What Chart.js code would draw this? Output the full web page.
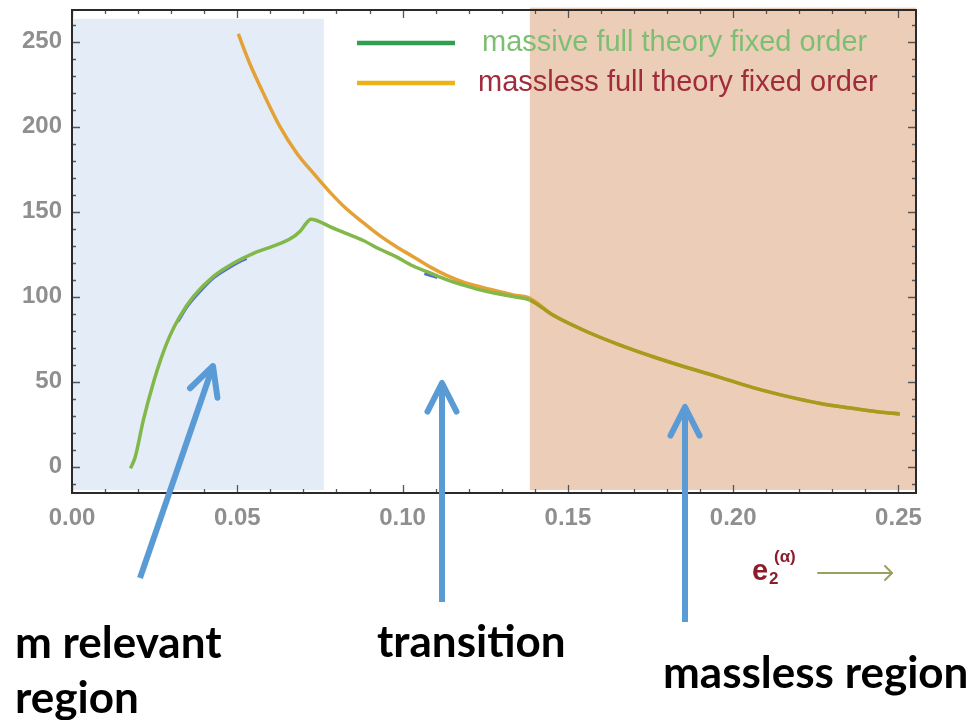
<!DOCTYPE html>
<html>
<head>
<meta charset="utf-8">
<script src="https://cdn.jsdelivr.net/npm/chart.js@4.4.1/dist/chart.umd.min.js"></script>
<style>
  html,body{margin:0;padding:0;background:#fff;}
  #wrap{width:978px;height:720px;position:relative;}
</style>
</head>
<body>
<div id="wrap"><canvas id="chart"></canvas></div>
<script>
// massive full theory fixed order (green)
const massiveX = [0.0177,0.0191,0.0216,0.0247,0.0270,0.0295,0.0325,0.0367,0.0427,0.0488,0.0549,0.0610,0.0660,0.0690,0.0708,0.0722,0.0740,0.0780,0.0831,0.0881,0.0930,0.0980,0.1032,0.1083,0.1133,0.1184,0.1234,0.1285,0.1335,0.1385,0.1456,0.1556,0.1658,0.1760,0.1860,0.1960,0.2060,0.2160,0.2260,0.2360,0.2440,0.2504];
const massiveY = [-1,5.5,27.5,50,64,76.5,88,100,111.8,119.6,125.5,129.8,134,138.5,143,145.5,144.8,141.2,137,133,128,123.5,118,114,110,106.8,104,101.8,100,98,89,79.5,71.5,64.5,58.3,52.5,46.5,41.5,37.3,34.3,32.2,31];

// massless full theory fixed order (orange)
const masslessX = [0.0503,0.0538,0.0579,0.0629,0.0680,0.0730,0.0780,0.0831,0.0881,0.0930,0.0980,0.1032,0.1083,0.1133,0.1184,0.1234,0.1285,0.1335,0.1385,0.1456,0.1556,0.1658,0.1760,0.1860,0.1960,0.2060,0.2160,0.2260,0.2360,0.2440,0.2504];
const masslessY = [254.5,237,219.6,200,184.4,172.6,161.5,151.5,143.5,136,129.5,123.5,117.5,112.5,108.5,105.8,103.3,101,99,89,79.5,71.5,64.5,58.3,52.5,46.5,41.5,37.3,34.3,32.2,31];

// blue bits peeking out under the green one (null = gap)
const blueX = [0.0320,0.0350,0.0390,0.0430,0.0470,0.0510,0.0528,0.0800,0.1066,0.1085,0.1105];
const blueY = [85.2,94.5,103.6,111.3,116.4,120.8,122.5,null,113.6,112.4,111.2];

const xTicks = [0, 0.05, 0.10, 0.15, 0.20, 0.25];
const yTicks = [0, 50, 100, 150, 200, 250];

// shaded regions: m relevant (blue) and massless (peach)
const regionFrom = [0, 0.1385];
const regionTo = [0.0762, 0.2553];
const regionTop = [263.4, 270];
const regionBottom = [-13.7, -13.7];
const regionColors = ["#e4edf7", "#ecceb8"];

const legendLabels = ["massive full theory fixed order", "massless full theory fixed order"];
const overlapFrom = 0.1385;

const GREEN = "#82b74a", ORANGE = "#e3a136", OLIVE = "#a59b1f";

function pts(xs, ys){
  return xs.map((x,i)=>({x:x, y:ys[i]}));
}

// shaded boxes behind the curves
const regionsPlugin = {
  id:"regions",
  beforeDatasetsDraw(chart){
    const {ctx, scales:{x, y}} = chart;
    ctx.save();
    regionFrom.forEach((from,i)=>{
      const x0 = x.getPixelForValue(from), x1 = x.getPixelForValue(regionTo[i]);
      const y0 = y.getPixelForValue(regionTop[i]), y1 = y.getPixelForValue(regionBottom[i]);
      ctx.fillStyle = regionColors[i];
      ctx.fillRect(x0, y0, x1-x0, y1-y0);
    });
    ctx.restore();
  }
};

// mathematica style frame with inward ticks
const framePlugin = {
  id:"frame",
  afterDatasetsDraw(chart){
    const {ctx, chartArea:a, scales:{x, y}} = chart;
    ctx.save();
    ctx.strokeStyle = "#555";
    ctx.lineWidth = 1.3;
    for(let k=0;k<=25;k++){
      const v = k/100, px = Math.round(x.getPixelForValue(v))+0.5;
      const len = k%5===0 ? 8 : 4;
      ctx.beginPath();
      ctx.moveTo(px, a.bottom); ctx.lineTo(px, a.bottom-len);
      ctx.moveTo(px, a.top); ctx.lineTo(px, a.top+len);
      ctx.stroke();
    }
    for(let v=-10; v<=260; v+=10){
      const py = Math.round(y.getPixelForValue(v))+0.5;
      const len = v%50===0 ? 8 : 4;
      ctx.beginPath();
      ctx.moveTo(a.left, py); ctx.lineTo(a.left+len, py);
      ctx.moveTo(a.right, py); ctx.lineTo(a.right-len, py);
      ctx.stroke();
    }
    ctx.strokeStyle = "#2a2a2a";
    ctx.lineWidth = 2;
    ctx.strokeRect(a.left, a.top, a.right-a.left, a.bottom-a.top);
    ctx.restore();
  }
};

// legend in the top right, drawn by hand
const legendPlugin = {
  id:"legendBox",
  afterDatasetsDraw(chart){
    const ctx = chart.ctx;
    ctx.save();
    const lineCols = ["#30a050", "#e8b41a"];
    const textCols = ["#7dbf72", "#a02c3c"];
    const rows = [43, 83];
    ctx.font = "29px 'Liberation Sans'";
    ctx.textBaseline = "middle";
    rows.forEach((ry,i)=>{
      ctx.strokeStyle = lineCols[i];
      ctx.lineWidth = 4.5;
      ctx.beginPath(); ctx.moveTo(357, ry); ctx.lineTo(455, ry); ctx.stroke();
      ctx.fillStyle = textCols[i];
      ctx.fillText(legendLabels[i], i===0 ? 482 : 478, ry);
    });
    ctx.restore();
  }
};

function arrow(ctx, x1, y1, x2, y2){
  const ang = Math.atan2(y2-y1, x2-x1), hl = 32, spread = 0.47;
  ctx.lineCap = "butt";
  ctx.beginPath(); ctx.moveTo(x1, y1); ctx.lineTo(x2, y2); ctx.stroke();
  ctx.lineCap = "round"; ctx.lineJoin = "round";
  ctx.beginPath();
  ctx.moveTo(x2 - hl*Math.cos(ang-spread), y2 - hl*Math.sin(ang-spread));
  ctx.lineTo(x2, y2);
  ctx.lineTo(x2 - hl*Math.cos(ang+spread), y2 - hl*Math.sin(ang+spread));
  ctx.stroke();
}

// arrows, region names and the axis label
const notesPlugin = {
  id:"notes",
  afterDraw(chart){
    const ctx = chart.ctx;
    ctx.save();
    ctx.strokeStyle = "#5b9bd5";
    ctx.lineWidth = 6;
    arrow(ctx, 140, 578, 213, 366);
    arrow(ctx, 442, 602, 442, 383);
    arrow(ctx, 685, 622, 685, 407);

    ctx.fillStyle = "#000";
    ctx.font = "bold 44px Lato";
    ctx.textBaseline = "alphabetic";
    ctx.fillText("m relevant", 15, 658);
    ctx.fillText("region", 15, 713);
    ctx.fillText("transition", 377, 657);
    ctx.fillText("massless region", 663, 688);

    ctx.fillStyle = "#8c1c2c";
    ctx.font = "bold 29px 'Liberation Sans'";
    ctx.fillText("e", 752, 580);
    ctx.font = "bold 17px 'Liberation Sans'";
    ctx.fillText("2", 769, 584);
    ctx.fillText("(α)", 774, 562);

    ctx.strokeStyle = "#9aa060";
    ctx.lineWidth = 2;
    ctx.lineCap = "round";
    ctx.beginPath(); ctx.moveTo(818, 573); ctx.lineTo(892, 573); ctx.stroke();
    ctx.beginPath(); ctx.moveTo(885, 566); ctx.lineTo(892, 573); ctx.lineTo(885, 580); ctx.stroke();
    ctx.restore();
  }
};

new Chart(document.getElementById("chart"), {
  type:"line",
  data:{
    datasets:[
      {
        label:legendLabels[0],
        data:pts(massiveX, massiveY),
        borderColor:GREEN,
        borderWidth:3.5,
        pointRadius:0,
        cubicInterpolationMode:"monotone",
        segment:{ borderColor: c => c.p0.parsed.x >= overlapFrom - 1e-6 ? OLIVE : GREEN }
      },
      {
        label:legendLabels[1],
        data:pts(masslessX, masslessY),
        borderColor:ORANGE,
        borderWidth:3.5,
        pointRadius:0,
        cubicInterpolationMode:"monotone"
      },
      {
        label:"blue",
        data:pts(blueX, blueY),
        borderColor:"#4f6fd0",
        borderWidth:3,
        pointRadius:0,
        spanGaps:false,
        cubicInterpolationMode:"monotone"
      }
    ]
  },
  options:{
    responsive:true,
    maintainAspectRatio:false,
    animation:false,
    devicePixelRatio:1,
    layout:{padding:{top:10, right:62, left:0, bottom:0}},
    plugins:{legend:{display:false}, tooltip:{enabled:false}},
    scales:{
      x:{
        type:"linear",
        min:0, max:0.2553,
        afterBuildTicks: s => { s.ticks = xTicks.map(v=>({value:v})); },
        afterFit: s => { s.height = 227; s.paddingLeft = 0; s.paddingRight = 0; },
        grid:{display:false, drawTicks:false},
        border:{display:false},
        ticks:{
          padding:11,
          color:"#8f8f8f",
          font:{family:"'Liberation Sans'", size:24, weight:"bold"},
          callback: v => Number(v).toFixed(2)
        }
      },
      y:{
        min:-15.5, max:268.6,
        afterBuildTicks: s => { s.ticks = yTicks.map(v=>({value:v})); },
        afterFit: s => { s.width = 72; s.paddingTop = 0; s.paddingBottom = 0; },
        grid:{display:false, drawTicks:false},
        border:{display:false},
        ticks:{
          padding:10,
          color:"#8f8f8f",
          font:{family:"'Liberation Sans'", size:24, weight:"bold"},
          callback: v => String(v)
        }
      }
    }
  },
  plugins:[regionsPlugin, framePlugin, legendPlugin, notesPlugin]
});
</script>
</body>
</html>
